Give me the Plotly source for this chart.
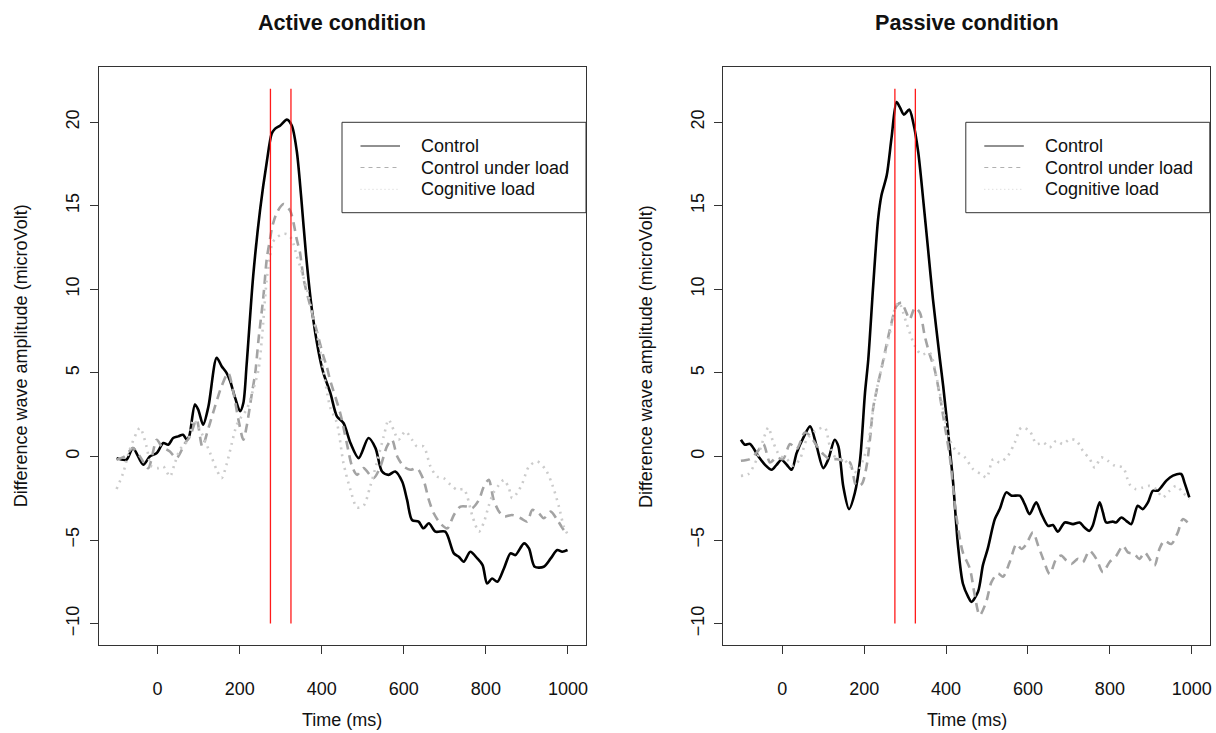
import plotly.graph_objects as go

# ---------------- data ----------------
tick_times = [0, 200, 400, 600, 800, 1000]
tick_amps = [-10, -5, 0, 5, 10, 15, 20]
marker_times = [275, 325]
marker_span = [-10, 22]
series_names = ["Control", "Control under load", "Cognitive load"]
panel_titles = ["Active condition", "Passive condition"]

# Active condition
active_control_t = [-100, -76, -60, -35, -19, -2, 14, 26, 38, 50, 62, 71, 77, 91, 99, 111, 124, 144, 156, 168,
                    177, 189, 201, 209, 217, 233, 250, 266, 278, 286, 299, 315, 327, 339, 350, 362, 376, 392, 404,
                    421, 437, 453, 470, 490, 514, 531, 547, 563, 579, 596, 608, 620, 636, 648, 661, 677, 701, 722,
                    734, 746, 762, 779, 792, 803, 815, 828, 844, 860, 872, 893, 905, 919, 941, 958, 974, 986, 999]
active_control_v = [-0.1, -0.2, 0.5, -0.5, 0.0, 0.2, 0.8, 0.7, 1.1, 1.2, 1.3, 1.0, 1.2, 3.1, 2.8, 1.9, 3.0, 5.9,
                    5.4, 5.0, 4.5, 3.5, 2.7, 3.2, 5.5, 10.8, 14.8, 17.6, 19.3, 19.6, 19.8, 20.15, 19.8, 18.3, 15.5,
                    12.0, 8.8, 6.3, 5.0, 3.8, 2.4, 2.0, 0.8, -0.1, 1.1, 0.5, -0.9, -1.1, -0.9, -1.5, -2.6, -3.8,
                    -3.9, -4.3, -4.0, -4.5, -4.5, -5.8, -6.0, -6.3, -5.7, -6.1, -6.5, -7.6, -7.3, -7.5, -6.7, -5.8,
                    -5.9, -5.2, -5.5, -6.6, -6.6, -6.1, -5.6, -5.7, -5.6]

active_load_t = [-100, -80, -60, -43, -23, -2, 10, 30, 46, 67, 79, 95, 109, 124, 140, 156, 172, 185, 197, 209,
                 217, 230, 238, 246, 258, 266, 274, 280, 291, 307, 323, 331, 339, 347, 356, 372, 388, 404, 412,
                 420, 445, 461, 474, 486, 502, 526, 543, 559, 571, 584, 600, 616, 632, 648, 661, 673, 689, 706,
                 722, 738, 754, 766, 783, 795, 807, 819, 832, 844, 864, 885, 901, 913, 929, 941, 958, 974, 990, 998]
active_load_v = [-0.2, 0.0, 0.5, 0.0, -0.7, 1.0, 0.6, 0.3, -0.1, 0.8, 1.2, 2.2, 0.6, 1.7, 3.0, 4.2, 5.0, 3.8, 2.2,
                 1.0, 1.8, 3.8, 5.0, 7.0, 9.6, 11.8, 13.0, 13.8, 14.6, 15.1, 14.7, 14.0, 13.0, 12.2, 10.6, 9.0,
                 7.5, 6.0, 5.4, 4.6, 2.6, 0.8, -0.6, -1.1, -0.7, -1.3, -0.6, 0.6, 1.0, 0.0, -0.6, -0.8, -0.7,
                 -1.4, -2.6, -3.4, -4.0, -4.3, -3.5, -3.0, -3.0, -3.1, -2.6, -1.8, -1.4, -2.6, -3.3, -3.6, -3.5,
                 -3.7, -3.9, -3.2, -3.4, -3.7, -3.3, -3.8, -4.4, -4.6]

active_cog_t = [-100, -84, -68, -43, -27, -15, 2, 14, 30, 42, 54, 75, 87, 99, 111, 128, 144, 156, 169, 181, 193,
                205, 217, 233, 246, 254, 266, 274, 280, 291, 303, 315, 327, 339, 347, 364, 380, 396, 420, 437,
                453, 470, 486, 502, 518, 534, 551, 563, 575, 587, 604, 620, 632, 648, 665, 681, 697, 714, 730,
                746, 754, 767, 783, 795, 807, 819, 832, 844, 856, 864, 877, 889, 905, 925, 946, 962, 978, 990, 998]
active_cog_v = [-1.95, -1.0, 0.4, 1.7, 0.6, -0.6, -0.7, -0.6, -1.2, -0.4, 0.4, 1.0, 2.2, 1.8, 1.2, 0.2, -0.8,
                -1.3, -0.4, 0.8, 1.9, 2.4, 2.8, 4.0, 5.2, 7.0, 10.6, 12.0, 12.8, 13.1, 13.3, 13.3, 13.0, 12.0,
                11.4, 10.0, 8.2, 6.4, 3.0, 2.0, -0.4, -2.0, -3.05, -2.95, -1.8, -0.4, 1.2, 2.2, 1.6, 1.0, 1.5,
                1.0, 0.6, 0.6, -0.6, -1.2, -1.3, -1.7, -2.0, -1.95, -2.35, -3.55, -4.5, -3.95, -2.95, -2.15,
                -1.7, -1.4, -1.9, -2.5, -2.15, -1.6, -0.6, -0.3, -0.8, -1.7, -3.0, -4.2, -4.6]

# Passive condition
passive_control_t = [-101, -91, -79, -58, -42, -26, -14, -2, 11, 23, 35, 51, 68, 84, 100, 112, 128, 137, 149, 163,
                     177, 190, 202, 210, 222, 234, 242, 255, 267, 279, 287, 297, 310, 320, 332, 344, 356, 368,
                     385, 393, 409, 417, 429, 441, 454, 462, 478, 490, 502, 519, 531, 547, 560, 580, 592, 604,
                     620, 633, 649, 661, 673, 690, 710, 726, 738, 750, 758, 775, 783, 791, 807, 815, 828, 840,
                     852, 868, 880, 893, 905, 917, 925, 938, 954, 974, 982, 994]
passive_control_v = [1.0, 0.7, 0.75, 0.0, -0.5, -0.8, -0.5, -0.2, -0.5, -0.8, 0.2, 1.1, 1.8, 0.6, -0.7, -0.2,
                     1.0, 0.6, -1.8, -3.15, -2.2, -0.2, 3.8, 5.8, 10.2, 14.2, 15.6, 16.8, 19.1, 21.2, 20.9, 20.45,
                     20.75, 19.95, 18.2, 15.4, 12.4, 9.4, 5.8, 4.2, 0.5, -1.5, -5.3, -7.6, -8.4, -8.7, -8.1,
                     -6.5, -5.5, -3.75, -3.15, -2.15, -2.35, -2.35, -2.85, -3.45, -2.75, -3.45, -4.15, -4.1,
                     -4.5, -3.95, -4.05, -3.95, -4.25, -4.45, -4.15, -2.75, -3.35, -3.95, -3.9, -3.95, -3.65,
                     -3.85, -4.05, -2.95, -3.15, -2.75, -2.05, -2.05, -1.85, -1.45, -1.15, -1.05, -1.55, -2.45]

passive_load_t = [-101, -79, -62, -46, -30, -14, 2, 19, 35, 55, 68, 84, 100, 116, 133, 149, 165, 181, 194, 206,
                  214, 222, 230, 246, 263, 279, 291, 303, 311, 324, 336, 348, 360, 372, 385, 397, 409, 425, 441,
                  458, 470, 482, 498, 511, 527, 539, 555, 572, 584, 596, 612, 625, 637, 653, 669, 681, 694, 706,
                  722, 734, 750, 767, 783, 799, 816, 832, 844, 860, 872, 885, 897, 909, 921, 933, 950, 966, 978, 994]
passive_load_v = [-0.26, -0.16, 0.24, 0.74, -0.36, -0.06, -0.16, 0.74, 0.44, 1.43, 1.23, 0.64, 0.14, -0.16, -0.16,
                  -0.26, -0.36, -1.76, -1.66, -0.56, 1.0, 2.9, 3.9, 5.7, 7.6, 9.0, 9.2, 8.6, 8.2, 8.9, 8.6, 7.2,
                  6.1, 5.2, 3.6, 1.8, 0.0, -3.55, -5.74, -6.7, -8.3, -9.5, -8.7, -7.5, -7.0, -7.2, -6.35, -5.24,
                  -5.54, -5.24, -4.54, -5.34, -6.13, -7.03, -6.13, -5.93, -6.23, -6.43, -6.13, -6.33, -5.64,
                  -6.13, -6.93, -6.33, -5.93, -5.34, -5.74, -5.84, -6.13, -5.74, -6.13, -6.53, -5.54, -5.04,
                  -5.24, -4.54, -3.75, -4.05]

passive_cog_t = [-101, -83, -62, -46, -34, -22, -6, 11, 27, 43, 60, 76, 88, 104, 116, 133, 149, 165, 182, 198,
                 210, 222, 234, 246, 263, 277, 285, 303, 324, 340, 360, 376, 393, 401, 409, 425, 446, 466, 486,
                 499, 515, 531, 551, 568, 584, 604, 621, 637, 653, 669, 685, 702, 718, 734, 751, 763, 779, 795,
                 812, 832, 848, 864, 881, 897, 913, 929, 946, 962, 978, 994]
passive_cog_v = [-1.16, -1.06, -0.16, 1.03, 1.73, 0.84, 0.04, -0.16, -0.56, -0.16, 1.03, 1.43, 1.63, 1.73, 0.64,
                 -0.16, -0.16, -0.56, -0.96, -0.16, 0.84, 2.8, 4.4, 5.6, 7.4, 9.0, 9.2, 8.0, 6.6, 6.1, 6.2, 4.8,
                 2.8, 1.8, 1.0, 0.3, -0.06, -0.76, -1.06, -1.26, -0.16, -0.36, 0.04, 0.84, 1.73, 1.53, 0.74,
                 0.84, 0.54, 0.94, 0.74, 1.03, 0.94, 0.34, -0.16, -0.66, -0.06, -0.26, -0.56, -0.66, -1.66,
                 -1.96, -1.86, -1.76, -1.96, -2.45, -2.05, -1.76, -2.15, -2.55]

panels = [
    [(active_control_t, active_control_v), (active_load_t, active_load_v), (active_cog_t, active_cog_v)],
    [(passive_control_t, passive_control_v), (passive_load_t, passive_load_v), (passive_cog_t, passive_cog_v)],
]

# ---------------- styling ----------------
W, H = 1216, 733
FONT = "Liberation Sans, Arial, Helvetica, sans-serif"
styles = [
    dict(color="#000000", width=2.6, dash="solid"),
    dict(color="#a3a3a3", width=2.6, dash="9px,6px"),
    dict(color="#cbcbcb", width=2.6, dash="2px,5px"),
]
legend_styles = [
    dict(color="#222222", width=1, dash="solid"),
    dict(color="#b0b0b0", width=1, dash="4px,4px"),
    dict(color="#d0d0d0", width=1, dash="1px,3px"),
]

# pixel geometry of each panel
x_dom_px = [(98.5, 586.0), (723.3, 1209.8)]
y_dom_px = (67.3, 645.0)


def px_x(p):
    return p / W


def px_y(p):
    return 1 - p / H


fig = go.Figure()
axis_ids = [("x", "y"), ("x2", "y2")]

for i, data in enumerate(panels):
    xa, ya = axis_ids[i]
    for j, (t, v) in enumerate(data):
        fig.add_trace(go.Scatter(
            x=t, y=v, mode="lines", name=series_names[j],
            line=dict(color=styles[j]["color"], width=styles[j]["width"], dash=styles[j]["dash"],
                      shape="spline", smoothing=0.8),
            xaxis=xa, yaxis=ya, showlegend=False, hoverinfo="skip"))
    for mt in marker_times:
        fig.add_trace(go.Scatter(
            x=[mt, mt], y=marker_span, mode="lines",
            line=dict(color="#ff1a1a", width=1.3),
            xaxis=xa, yaxis=ya, showlegend=False, hoverinfo="skip"))

common_x = dict(range=[-144, 1044], tickvals=tick_times, ticks="outside", ticklen=8, tickwidth=1,
                tickcolor="#333333", showline=True, linecolor="#333333", linewidth=1, mirror=True,
                showgrid=False, zeroline=False, ticklabelstandoff=19,
                tickfont=dict(family=FONT, size=18, color="#111111"))
common_y = dict(range=[-11.28, 23.28], tickvals=tick_amps, ticks="outside", ticklen=8, tickwidth=1,
                tickcolor="#333333", showline=True, linecolor="#333333", linewidth=1, mirror=True,
                showgrid=False, zeroline=False, tickangle=-90, ticklabelstandoff=3,
                tickfont=dict(family=FONT, size=18, color="#111111"))

y_dom = [px_y(y_dom_px[1]), px_y(y_dom_px[0])]
fig.update_layout(
    width=W, height=H,
    margin=dict(l=0, r=0, t=0, b=0, autoexpand=False),
    paper_bgcolor="white", plot_bgcolor="white",
    font=dict(family=FONT, size=18, color="#111111"),
    xaxis=dict(domain=[px_x(x_dom_px[0][0]), px_x(x_dom_px[0][1])], anchor="y", **common_x),
    yaxis=dict(domain=y_dom, anchor="x", **common_y),
    xaxis2=dict(domain=[px_x(x_dom_px[1][0]), px_x(x_dom_px[1][1])], anchor="y2", **common_x),
    yaxis2=dict(domain=y_dom, anchor="x2", **common_y),
    showlegend=False,
)

annotations = []
shapes = []
for i in range(2):
    x0, x1 = x_dom_px[i]
    cx = (x0 + x1) / 2
    # panel title
    annotations.append(dict(text="<b>%s</b>" % panel_titles[i], x=px_x(cx), y=px_y(23), xref="paper",
                            yref="paper", showarrow=False, xanchor="center", yanchor="middle",
                            font=dict(family=FONT, size=21.6, color="#111111")))
    # x axis title
    annotations.append(dict(text="Time (ms)", x=px_x(cx), y=px_y(720), xref="paper", yref="paper",
                            showarrow=False, xanchor="center", yanchor="middle",
                            font=dict(family=FONT, size=18, color="#111111")))
    # y axis title
    annotations.append(dict(text="Difference wave amplitude (microVolt)", x=px_x(x0 - 77.5),
                            y=px_y((y_dom_px[0] + y_dom_px[1]) / 2), xref="paper", yref="paper",
                            showarrow=False, xanchor="center", yanchor="middle", textangle=-90,
                            font=dict(family=FONT, size=18, color="#111111")))
    # legend box
    lx0 = x1 - 244
    shapes.append(dict(type="rect", xref="paper", yref="paper", x0=px_x(lx0), x1=px_x(x1),
                       y0=px_y(212.7), y1=px_y(122.3), line=dict(color="#333333", width=1),
                       fillcolor="white", layer="above"))
    rows = [146, 167.5, 189.3]
    for j in range(3):
        shapes.append(dict(type="line", xref="paper", yref="paper", x0=px_x(lx0 + 18.5), x1=px_x(lx0 + 58),
                           y0=px_y(rows[j]), y1=px_y(rows[j]), line=legend_styles[j], layer="above"))
        annotations.append(dict(text=series_names[j], x=px_x(lx0 + 77), y=px_y(rows[j]), xref="paper",
                                yref="paper", showarrow=False, xanchor="left", yanchor="middle",
                                font=dict(family=FONT, size=18, color="#111111")))

fig.update_layout(annotations=annotations, shapes=shapes)
fig.write_html("out.html", config={"displayModeBar": False},
               post_script="document.body.style.margin='0px';document.body.style.overflow='hidden';")
